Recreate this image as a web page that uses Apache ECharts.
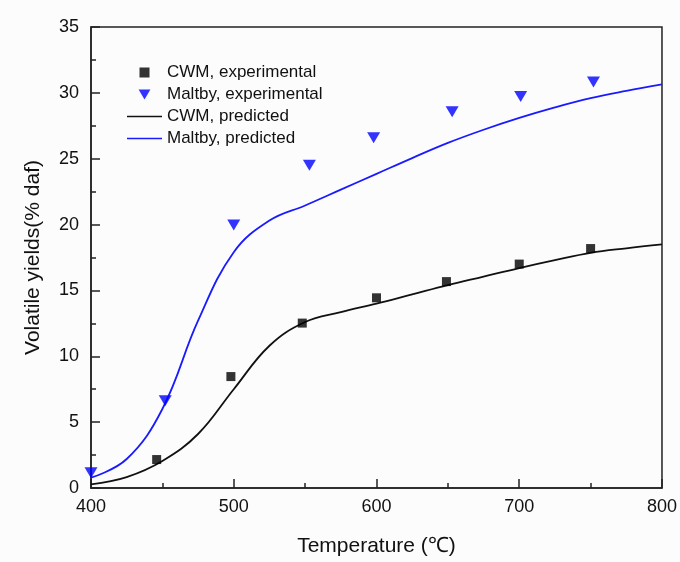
<!DOCTYPE html>
<html>
<head>
<meta charset="utf-8">
<script src="https://cdn.jsdelivr.net/npm/echarts@6/dist/echarts.min.js"></script>
<style>
html,body{margin:0;padding:0;background:#fcfcfc;}
#chart{width:680px;height:562px;}
</style>
</head>
<body>
<div id="chart"></div>
<script>
// Experimental points
const cwmExpT = [446, 498, 548, 600, 649, 700, 750];
const cwmExpV = [2.16, 8.46, 12.52, 14.44, 15.67, 17.0, 18.18];
const maltbyExpT = [400, 452, 500, 553, 598, 653, 701, 752];
const maltbyExpV = [1.15, 6.63, 19.96, 24.5, 26.6, 28.57, 29.72, 30.82];

// Predicted curves
const predT = [400, 425, 450, 475, 500, 525, 550, 575, 600, 625, 650, 675, 700, 725, 750, 775, 800];
const cwmPredV = [0.28, 0.83, 2.05, 4.1, 7.5, 10.8, 12.6, 13.35, 14.0, 14.7, 15.4, 16.05, 16.7, 17.3, 17.85, 18.2, 18.5];
const maltbyPredV = [0.78, 2.2, 6.0, 12.7, 17.9, 20.3, 21.45, 22.65, 23.85, 25.05, 26.2, 27.2, 28.1, 28.9, 29.6, 30.15, 30.64];

const xTicks = [400, 500, 600, 700, 800];
const yTicks = [0, 5, 10, 15, 20, 25, 30, 35];

const zip = (a, b) => a.map((v, i) => [v, b[i]]);

const chart = echarts.init(document.getElementById('chart'));
const font = 'Liberation Sans, Arial, sans-serif';
const lineIcon = 'path://M0,0L35,0L35,1.6L0,1.6Z';
chart.setOption({
  backgroundColor: '#fcfcfc',
  animation: false,
  grid: { left: 91, right: 14, top: 27, bottom: 69, show: true, borderColor: '#222', borderWidth: 1.5, backgroundColor: 'transparent' },
  legend: {
    orient: 'vertical',
    left: 127, top: 64, padding: 0,
    itemWidth: 35, itemHeight: 10, itemGap: 5,
    symbolKeepAspect: true,
    textStyle: { fontFamily: font, fontSize: 17, color: '#111' },
    data: [
      { name: 'CWM, experimental', icon: 'path://M0,0L9,0L9,9L0,9Z' },
      { name: 'Maltby, experimental', icon: 'path://M0,0L13,0L6.5,11Z' },
      { name: 'CWM, predicted', icon: lineIcon },
      { name: 'Maltby, predicted', icon: lineIcon }
    ]
  },
  xAxis: {
    type: 'value', min: xTicks[0], max: xTicks[xTicks.length - 1], interval: 100,
    name: 'Temperature (℃)', nameLocation: 'middle', nameGap: 48,
    nameTextStyle: { fontFamily: font, fontSize: 21, color: '#111' },
    axisLine: { show: true, lineStyle: { color: '#222', width: 1.5 } },
    axisTick: { show: true, inside: true, length: 9, lineStyle: { color: '#222', width: 1.5 } },
    minorTick: { show: true, splitNumber: 2, length: 5, lineStyle: { color: '#222', width: 1.5 } },
    axisLabel: { fontFamily: font, fontSize: 18, color: '#111', margin: 10 },
    splitLine: { show: false }
  },
  yAxis: {
    type: 'value', min: yTicks[0], max: yTicks[yTicks.length - 1], interval: 5,
    name: 'Volatile yields(% daf)', nameLocation: 'middle', nameGap: 47,
    nameTextStyle: { fontFamily: font, fontSize: 21, color: '#111' },
    axisLine: { show: true, lineStyle: { color: '#222', width: 1.5 } },
    axisTick: { show: true, inside: true, length: 9, lineStyle: { color: '#222', width: 1.5 } },
    minorTick: { show: true, splitNumber: 2, length: 5, lineStyle: { color: '#222', width: 1.5 } },
    axisLabel: { fontFamily: font, fontSize: 18, color: '#111', margin: 12 },
    splitLine: { show: false }
  },
  series: [
    { name: 'CWM, experimental', type: 'scatter', data: zip(cwmExpT, cwmExpV), symbol: 'rect', symbolSize: 9, itemStyle: { color: '#000' }, z: 5 },
    { name: 'Maltby, experimental', type: 'scatter', data: zip(maltbyExpT, maltbyExpV), symbol: 'triangle', symbolRotate: 180, symbolSize: [13, 11], itemStyle: { color: '#0000ff' }, z: 5 },
    { name: 'CWM, predicted', type: 'line', data: zip(predT, cwmPredV), symbol: 'none', smooth: 0.4, lineStyle: { color: '#111', width: 1.8 }, itemStyle: { color: '#111' } },
    { name: 'Maltby, predicted', type: 'line', data: zip(predT, maltbyPredV), symbol: 'none', smooth: 0.4, lineStyle: { color: '#1a1aff', width: 1.8 }, itemStyle: { color: '#1a1aff' } }
  ]
});
</script>
</body>
</html>
